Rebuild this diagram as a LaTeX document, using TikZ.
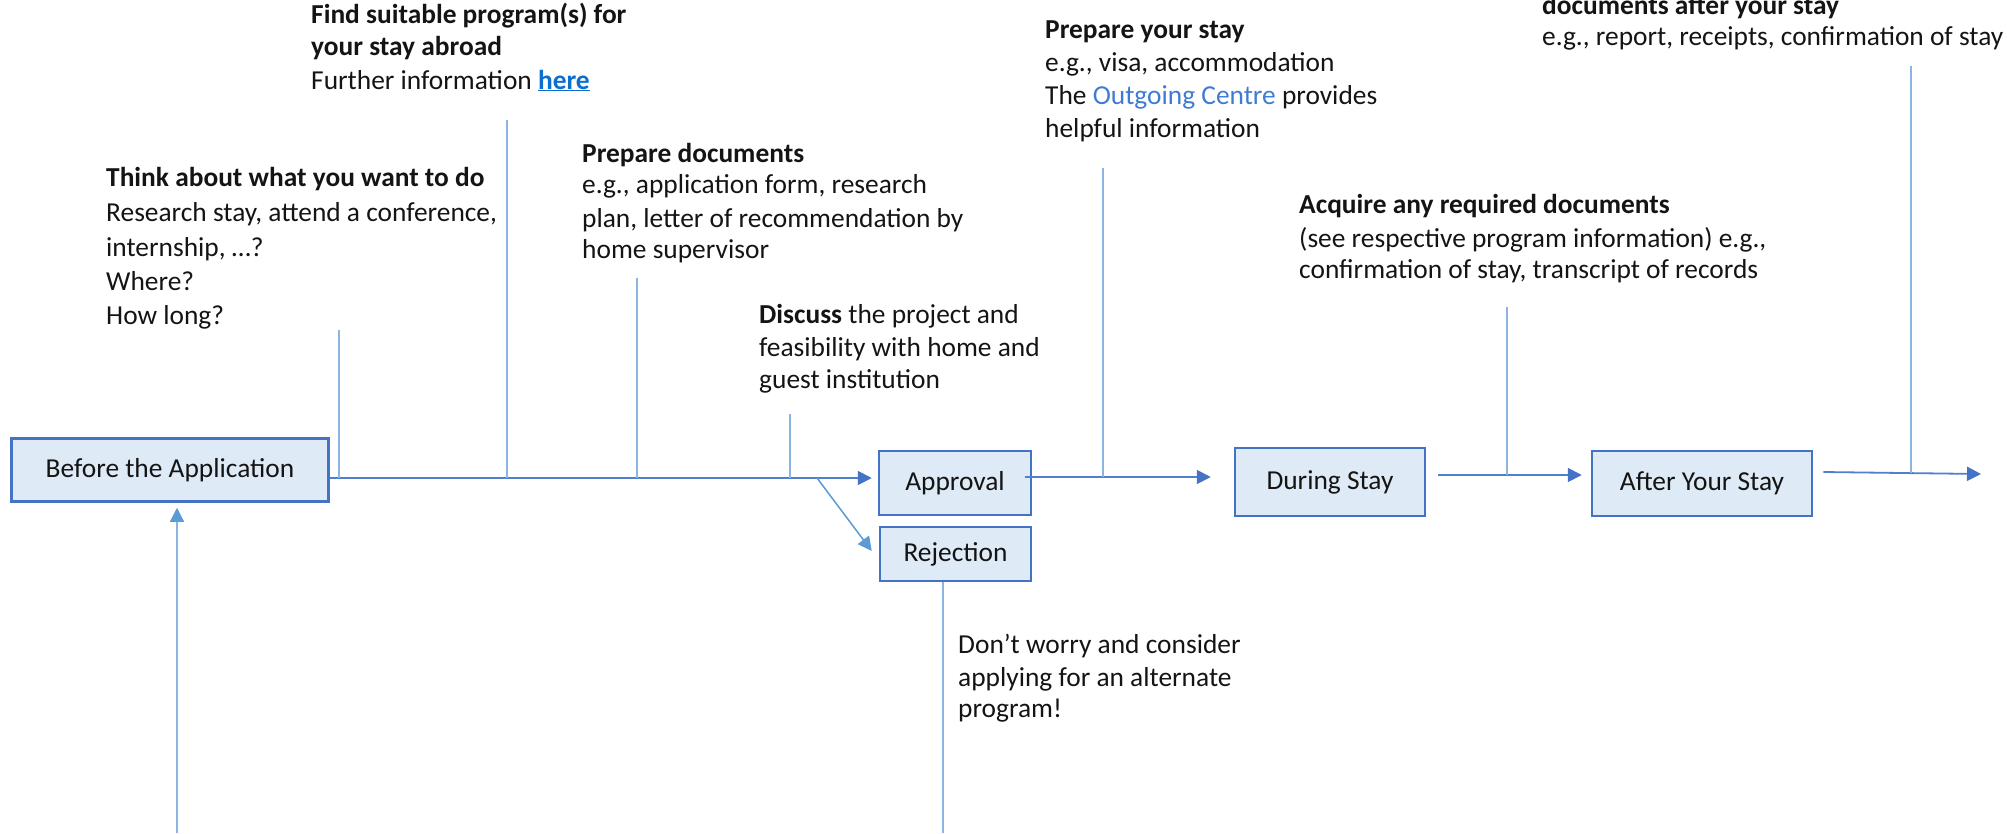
\documentclass[tikz,border=0pt]{standalone}
\usepackage{fontspec}
\setmainfont{Carlito}
\usetikzlibrary{arrows.meta,calc}
\definecolor{boxfill}{HTML}{DEEBF7}
\definecolor{boxline}{HTML}{4472C4}
\definecolor{mainline}{HTML}{4F7FCF}
\definecolor{tickline}{HTML}{8DB3E2}
\definecolor{tiplight}{HTML}{5B9BD5}
\definecolor{linkblue}{HTML}{0A6FD0}
\definecolor{centreblue}{HTML}{3F7BD6}
\definecolor{txt}{HTML}{141414}
\begin{document}
\begin{tikzpicture}[x=1pt,y=-1pt,
  every node/.style={font=\fontsize{27.4}{33}\selectfont, text=txt, inner sep=0pt},
  stagebox/.style={draw=boxline, line width=2.5pt, fill=boxfill},
  lbl/.style={anchor=base west},
  tick/.style={draw=tickline, line width=1.3pt},
  flow/.style={draw=mainline, line width=1.8pt},
  darktip/.style={-{Triangle[length=14pt,width=14pt,color=boxline]}},
  lighttip/.style={-{Triangle[length=14pt,width=14pt,color=tiplight]}},
]
\useasboundingbox (0,0) rectangle (2007,833);

% stage boxes
\node[stagebox, minimum width=317pt, minimum height=63pt] (before) at (170,470) {Before the Application};
\node[stagebox, minimum width=152pt, minimum height=64pt] (approval) at (955,483) {Approval};
\node[stagebox, minimum width=151pt, minimum height=54pt] (rejection) at (955.5,554) {Rejection};
\node[stagebox, minimum width=190pt, minimum height=68pt] (during) at (1330,482) {During Stay};
\node[stagebox, minimum width=220pt, minimum height=65pt] (after) at (1702,483.5) {After Your Stay};

% named points
\coordinate (split) at (817,478);
\coordinate (endpt) at (1981,474);
\coordinate (rejlow) at (943,833);
\coordinate (upstart) at (177,833);

% main flow
\draw[flow, darktip] ($(before.east)+(0,8)$) -- ($(approval.west)+(-6,-5)$);
\draw[flow, lighttip, draw=tiplight, line width=1.5pt] (split) -- ($(rejection.west)+(-7,-3)$);
\draw[flow, darktip] ($(approval.east)+(-7,-6)$) -- ($(during.west)+(-23,-5)$);
\draw[flow, darktip] ($(during.east)+(12,-7)$) -- ($(after.west)+(-9,-8.5)$);
\draw[flow, darktip] ($(after.east)+(10,-11.5)$) -- (endpt);

% branches to the notes
\coordinate (k1a) at (339,330);  \coordinate (k1b) at (339,478);
\coordinate (k2a) at (507,120);  \coordinate (k2b) at (507,478);
\coordinate (k3a) at (637,278);  \coordinate (k3b) at (637,478);
\coordinate (k4a) at (790,414);  \coordinate (k4b) at (790,478);
\coordinate (k5a) at (1103,168); \coordinate (k5b) at (1103,477);
\coordinate (k6a) at (1507,307); \coordinate (k6b) at (1507,475);
\coordinate (k7a) at (1911,66);  \coordinate (k7b) at (1911,473);
\draw[tick] (k1a) -- (k1b);
\draw[tick] (k2a) -- (k2b);
\draw[tick] (k3a) -- (k3b);
\draw[tick] (k4a) -- (k4b);
\draw[tick] (k5a) -- (k5b);
\draw[tick] (k6a) -- (k6b);
\draw[tick] (k7a) -- (k7b);
\draw[tick] (rejection.south -| rejlow) -- (rejlow);
\draw[tick, lighttip, shorten >=5pt] (upstart) -- (before.south -| upstart);

% notes
\node[lbl] (fa1) at (311,23) {\textbf{Find suitable program(s) for}};
\node[lbl] (fa2) at (311,55) {\textbf{your stay abroad}};
\node[lbl] (fa3) at (311,89) {Further information \textbf{\color{linkblue}\underline{here}}};

\node[lbl] (th1) at (106,186) {\textbf{Think about what you want to do}};
\node[lbl] (th2) at (106,221) {Research stay, attend a conference,};
\node[lbl] (th3) at (106,256) {internship, …?};
\node[lbl] (th4) at (106,290) {Where?};
\node[lbl] (th5) at (106,324) {How long?};

\node[lbl] (pd1) at (582,162) {\textbf{Prepare documents}};
\node[lbl] (pd2) at (582,193) {e.g., application form, research};
\node[lbl] (pd3) at (582,227) {plan, letter of recommendation by};
\node[lbl] (pd4) at (582,258) {home supervisor};

\node[lbl] (ds1) at (759,323) {\textbf{Discuss} the project and};
\node[lbl] (ds2) at (759,356) {feasibility with home and};
\node[lbl] (ds3) at (759,388) {guest institution};

\node[lbl] (ps1) at (1045,38) {\textbf{Prepare your stay}};
\node[lbl] (ps2) at (1045,71) {e.g., visa, accommodation};
\node[lbl] (ps3) at (1045,104) {The {\color{centreblue}Outgoing Centre} provides};
\node[lbl] (ps4) at (1045,137) {helpful information};

\node[lbl] (aq1) at (1299,213) {\textbf{Acquire any required documents}};
\node[lbl] (aq2) at (1299,247) {(see respective program information) e.g.,};
\node[lbl] (aq3) at (1299,278) {confirmation of stay, transcript of records};

\node[lbl] (sd1) at (1542,14) {\textbf{documents after your stay}};
\node[lbl] (sd2) at (1542,45) {e.g., report, receipts, confirmation of stay};

\node[lbl] (dw1) at (958,653) {Don’t worry and consider};
\node[lbl] (dw2) at (958,686) {applying for an alternate};
\node[lbl] (dw3) at (958,717) {program!};
\end{tikzpicture}
\end{document}
